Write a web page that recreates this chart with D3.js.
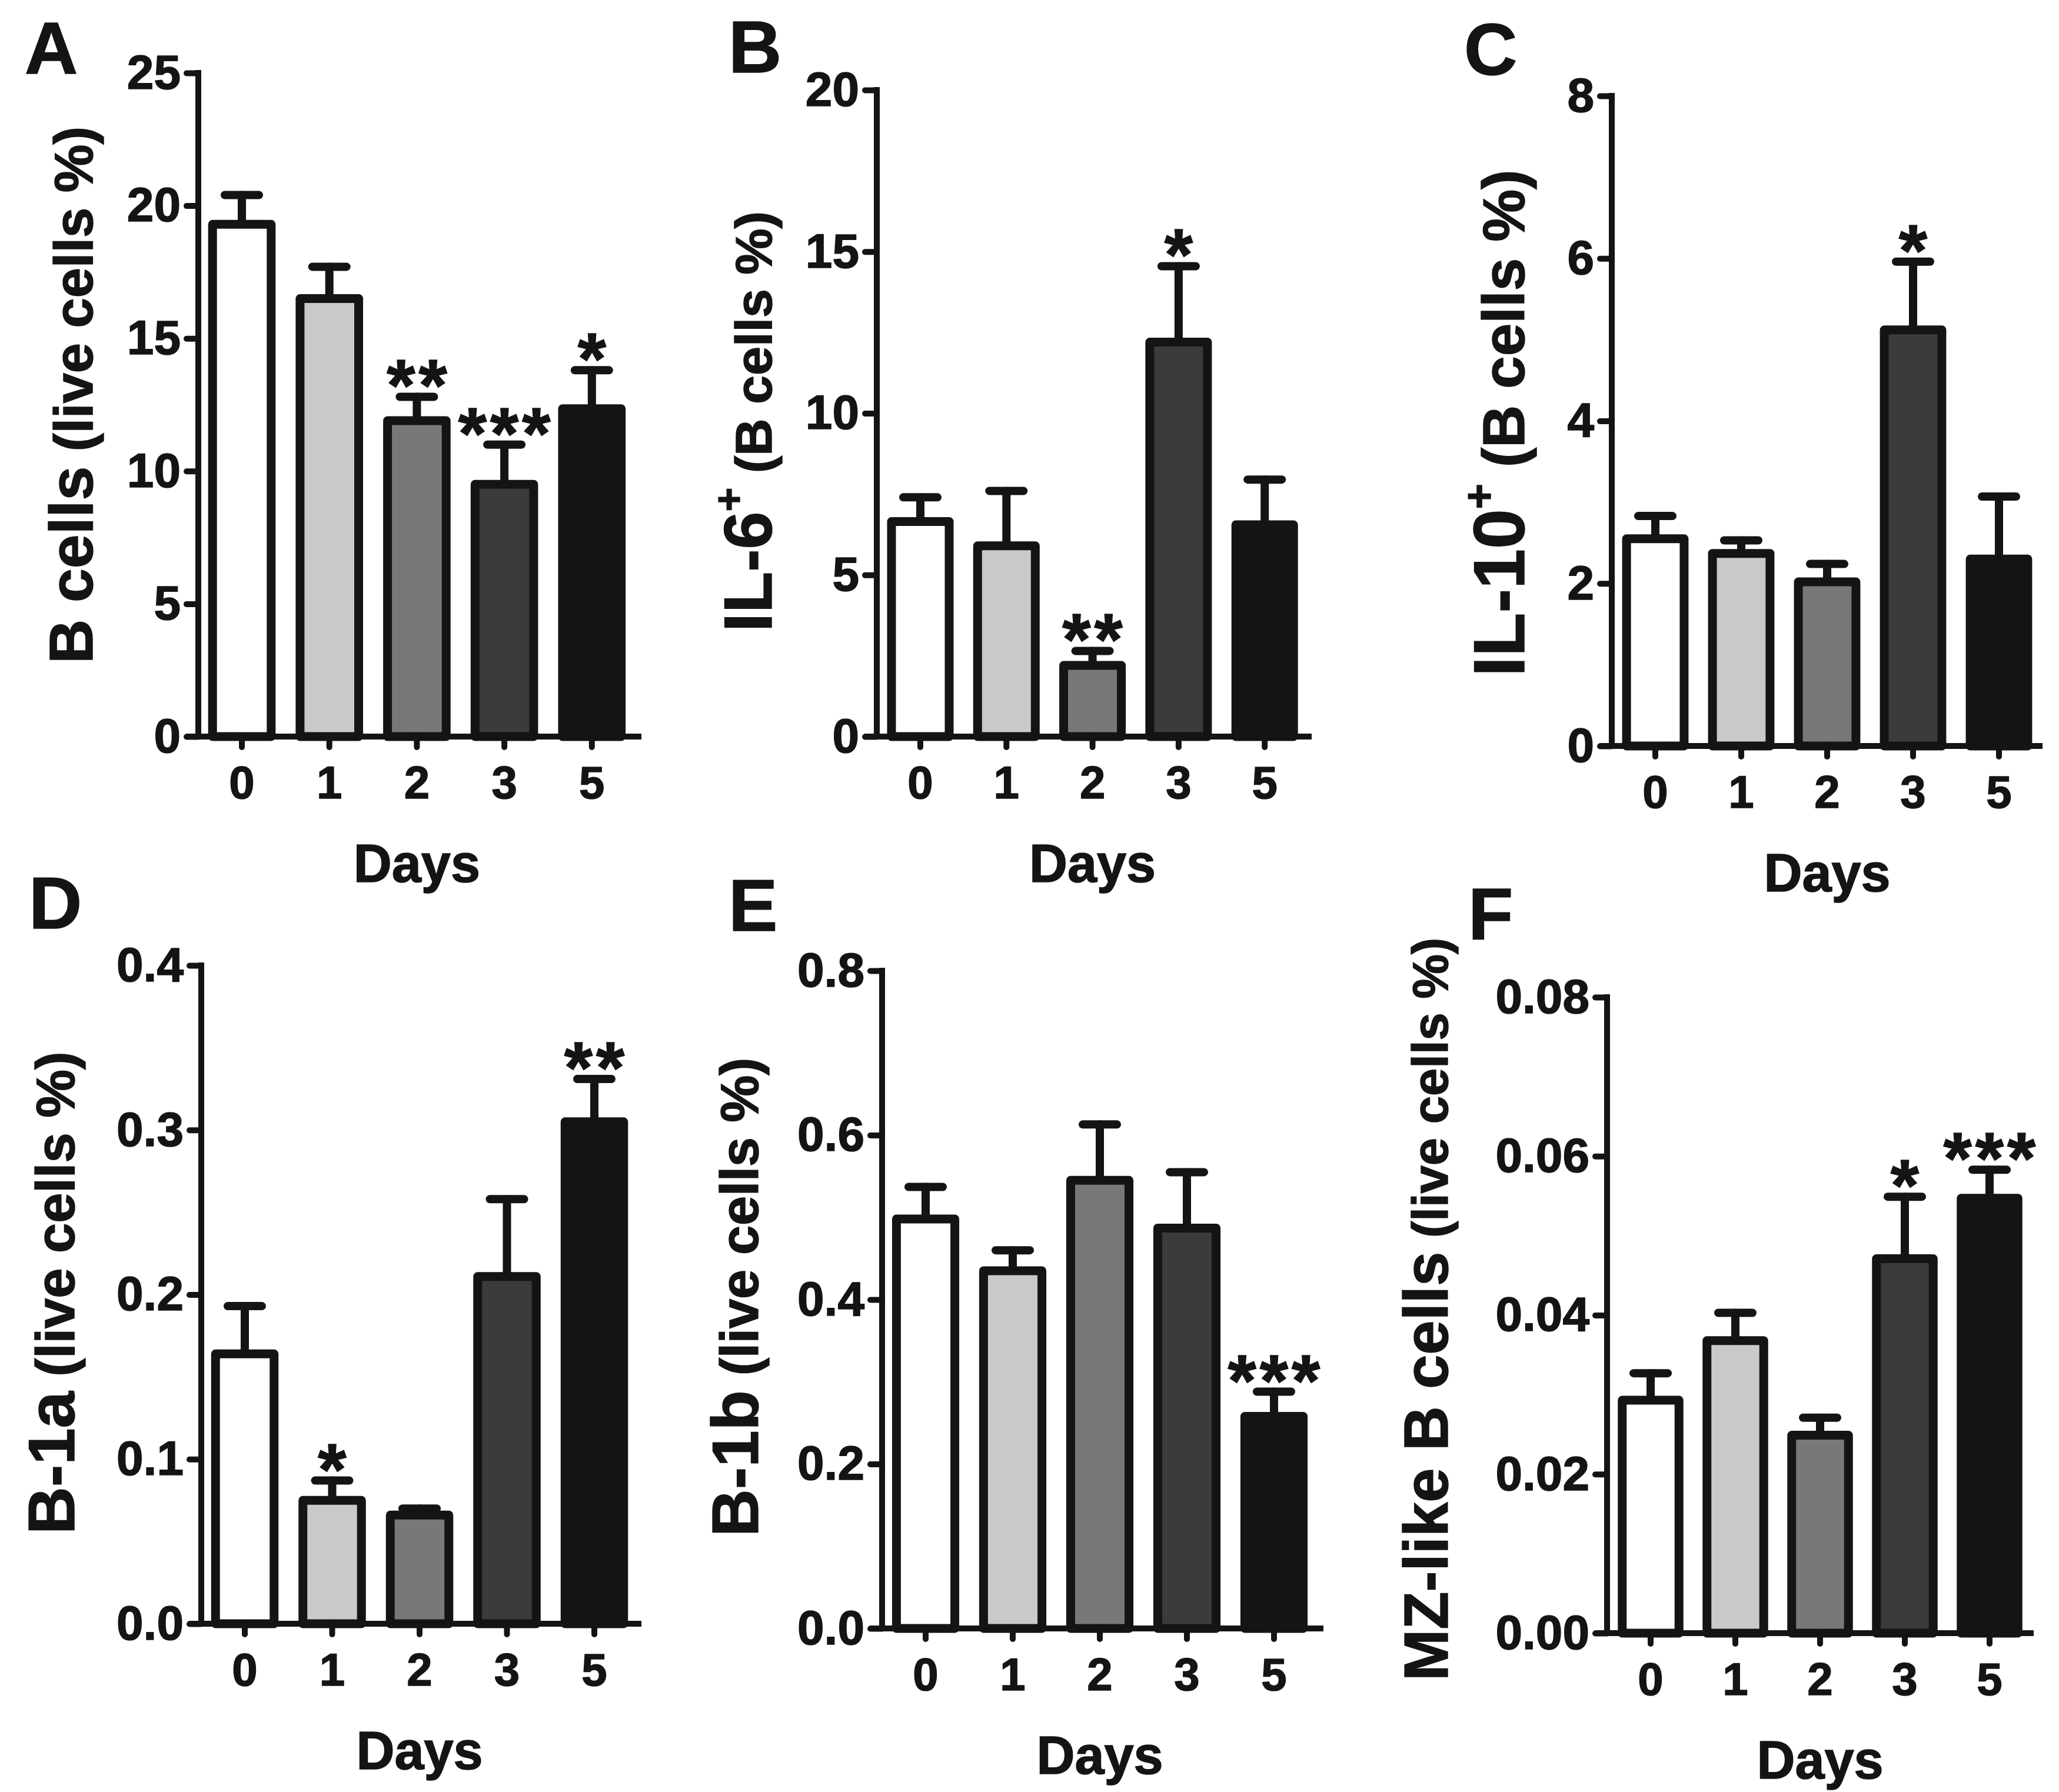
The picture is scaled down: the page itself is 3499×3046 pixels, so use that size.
<!doctype html>
<html>
<head>
  <meta charset="utf-8">
  <style>
    body { margin: 0; background: #fff; }
    svg { display: block; }
    text { font-family: "Liberation Sans", Arial, sans-serif; font-weight: bold; fill: #141414;
           stroke: #141414; stroke-width: 1.5px; paint-order: stroke; }
  </style>
  <script src="https://cdn.jsdelivr.net/npm/d3@7/dist/d3.min.js"></script>
</head>
<body>
  <script>
  // categories shared by all panels
  var days = ["0", "1", "2", "3", "5"];

  // A: B cells (live cells %)
  var bCells = [19.3, 16.5, 11.9, 9.5, 12.35];
  var bCellsSem = [1.1, 1.2, 0.9, 1.5, 1.45];
  var bCellsStars = ["", "", "**", "***", "*"];
  var bCellsTicks = [0, 5, 10, 15, 20, 25];

  // B: IL-6+ (B cells %)
  var il6 = [6.65, 5.9, 2.2, 12.2, 6.55];
  var il6Sem = [0.75, 1.7, 0.45, 2.35, 1.4];
  var il6Stars = ["", "", "**", "*", ""];
  var il6Ticks = [0, 5, 10, 15, 20];

  // C: IL-10+ (B cells %)
  var il10 = [2.55, 2.37, 2.02, 5.12, 2.3];
  var il10Sem = [0.28, 0.16, 0.22, 0.84, 0.77];
  var il10Stars = ["", "", "", "*", ""];
  var il10Ticks = [0, 2, 4, 6, 8];

  // D: B-1a (live cells %)
  var b1a = [0.164, 0.075, 0.066, 0.211, 0.305];
  var b1aSem = [0.029, 0.012, 0.004, 0.047, 0.026];
  var b1aStars = ["", "*", "", "", "**"];
  var b1aTicks = [0, 0.1, 0.2, 0.3, 0.4];

  // E: B-1b (live cells %)
  var b1b = [0.498, 0.435, 0.545, 0.487, 0.258];
  var b1bSem = [0.039, 0.025, 0.068, 0.068, 0.030];
  var b1bStars = ["", "", "", "", "***"];
  var b1bTicks = [0, 0.2, 0.4, 0.6, 0.8];

  // F: MZ-like B cells (live cells %)
  var mz = [0.0293, 0.0368, 0.0249, 0.0471, 0.0547];
  var mzSem = [0.0034, 0.0035, 0.0022, 0.0078, 0.0036];
  var mzStars = ["", "", "", "*", "***"];
  var mzTicks = [0, 0.02, 0.04, 0.06, 0.08];

  var fills = ["#ffffff", "#c9c9c9", "#787878", "#3b3b3b", "#151515"];
  var ink = "#141414";

  var svgW = 3499, svgH = 3046;
  var svg = d3.select("body").append("svg")
    .attr("width", svgW)
    .attr("height", svgH);

  // panels: data + where each one sits on the page
  // title: [main, superscript, rest], f: [main size, sup size, rest size], titleY = bottom end of the rotated title
  var panels = [
    { letter: "A", vals: bCells, sem: bCellsSem, stars: bCellsStars, ticks: bCellsTicks, fmt: "d",
      title: ["B cells", "", " (live cells %)"], f: [104, 0, 92],
      axisX: 337, top: 124, zero: 1252, step: 148.7, xEnd: 1090, titleX: 157, titleY: 1128, lx: 42, ly: 125 },
    { letter: "B", vals: il6, sem: il6Sem, stars: il6Stars, ticks: il6Ticks, fmt: "d",
      title: ["IL-6", "+", " (B cells %)"], f: [115, 70, 88],
      axisX: 1490, top: 153, zero: 1252, step: 146.3, xEnd: 2229, titleX: 1311, titleY: 1074, lx: 1238, ly: 123 },
    { letter: "C", vals: il10, sem: il10Sem, stars: il10Stars, ticks: il10Ticks, fmt: "d",
      title: ["IL-10", "+", " (B cells %)"], f: [122, 74, 100],
      axisX: 2739, top: 163, zero: 1268, step: 146, xEnd: 3471, titleX: 2590, titleY: 1150, lx: 2488, ly: 127 },
    { letter: "D", vals: b1a, sem: b1aSem, stars: b1aStars, ticks: b1aTicks, fmt: ".1f",
      title: ["B-1a", "", " (live cells %)"], f: [112, 0, 92],
      axisX: 342, top: 1641, zero: 2760, step: 148.5, xEnd: 1090, titleX: 126, titleY: 2608, lx: 49, ly: 1578 },
    { letter: "E", vals: b1b, sem: b1bSem, stars: b1bStars, ticks: b1bTicks, fmt: ".1f",
      title: ["B-1b", "", " (live cells %)"], f: [112, 0, 90],
      axisX: 1499, top: 1650, zero: 2768, step: 148, xEnd: 2249, titleX: 1288, titleY: 2612, lx: 1238, ly: 1582 },
    { letter: "F", vals: mz, sem: mzSem, stars: mzStars, ticks: mzTicks, fmt: ".2f",
      title: ["MZ-like B cells", "", " (live cells %)"], f: [105, 0, 85],
      axisX: 2731, top: 1695, zero: 2776, step: 144, xEnd: 3456, titleX: 2460, titleY: 2857, lx: 2495, ly: 1596 }
  ];

  panels.forEach(function(p) {
    var g = svg.append("g");
    var rows = days.map(function(d, i) {
      return { day: d, v: p.vals[i], e: p.vals[i] + p.sem[i], star: p.stars[i], i: i };
    });

    var x0 = p.axisX + 74 - p.step / 2;
    var x = d3.scaleBand()
      .domain(days)
      .range([x0, x0 + 5 * p.step])
      .paddingInner(0.33)
      .paddingOuter(0.165);

    var y = d3.scaleLinear()
      .domain([0, p.ticks[p.ticks.length - 1]])
      .range([p.zero, p.top]);

    // error bars (upper only), behind the bars
    var eb = g.selectAll(".err").data(rows).enter().append("g")
      .attr("stroke", ink)
      .attr("stroke-width", 14)
      .attr("stroke-linecap", "round");
    eb.append("line")
      .attr("x1", function(d) { return x(d.day) + x.bandwidth() / 2; })
      .attr("x2", function(d) { return x(d.day) + x.bandwidth() / 2; })
      .attr("y1", function(d) { return y(d.v); })
      .attr("y2", function(d) { return y(d.e); });
    eb.append("line")
      .attr("x1", function(d) { return x(d.day) + x.bandwidth() / 2 - 29; })
      .attr("x2", function(d) { return x(d.day) + x.bandwidth() / 2 + 29; })
      .attr("y1", function(d) { return y(d.e); })
      .attr("y2", function(d) { return y(d.e); });

    g.selectAll("rect").data(rows).enter().append("rect")
      .attr("x", function(d) { return x(d.day); })
      .attr("y", function(d) { return y(d.v); })
      .attr("width", x.bandwidth())
      .attr("height", function(d) { return y(0) - y(d.v); })
      .attr("fill", function(d) { return fills[d.i]; })
      .attr("stroke", ink)
      .attr("stroke-width", 15)
      .attr("stroke-linejoin", "round");

    // significance stars
    g.selectAll(".star").data(rows).enter().append("text")
      .attr("x", function(d) { return x(d.day) + x.bandwidth() / 2 + 3; })
      .attr("y", function(d) { return y(d.e) + 24; })
      .attr("text-anchor", "middle")
      .style("font-size", "124px")
      .style("letter-spacing", "6px")
      .text(function(d) { return d.star; });

    // y axis
    var yAxis = d3.axisLeft(y)
      .tickValues(p.ticks)
      .tickFormat(d3.format(p.fmt))
      .tickSize(20)
      .tickSizeOuter(0)
      .tickPadding(10);
    var ya = g.append("g").attr("transform", "translate(" + p.axisX + ",0)").call(yAxis);
    ya.select(".domain").attr("stroke", ink).attr("stroke-width", 10)
      .attr("d", "M0," + (p.top - 5) + "V" + p.zero);
    ya.selectAll(".tick line").attr("stroke", ink).attr("stroke-width", 10).attr("stroke-linecap", "round");
    ya.selectAll(".tick text")
      .attr("fill", ink)
      .style("font-family", "'Liberation Sans', Arial, sans-serif")
      .style("font-weight", "bold")
      .style("font-size", "82px");

    // x axis
    var xAxis = d3.axisBottom(x)
      .tickSize(18)
      .tickSizeOuter(0)
      .tickPadding(32);
    var xa = g.append("g").attr("transform", "translate(0," + p.zero + ")").call(xAxis);
    xa.select(".domain").attr("stroke", ink).attr("stroke-width", 10)
      .attr("d", "M" + (p.axisX - 21) + ",0H" + p.xEnd);
    xa.selectAll(".tick line").attr("stroke", ink).attr("stroke-width", 10).attr("stroke-linecap", "round");
    xa.selectAll(".tick text")
      .attr("fill", ink)
      .style("font-family", "'Liberation Sans', Arial, sans-serif")
      .style("font-weight", "bold")
      .style("font-size", "78px");

    // x title
    g.append("text")
      .attr("x", x(days[2]) + x.bandwidth() / 2)
      .attr("y", p.zero + 247)
      .attr("text-anchor", "middle")
      .style("font-size", "90px")
      .text("Days");

    // y title, reading bottom to top from titleY
    var t = g.append("text")
      .attr("transform", "translate(" + p.titleX + "," + p.titleY + ") rotate(-90)")
      .attr("text-anchor", "start");
    t.append("tspan").style("font-size", p.f[0] + "px").text(p.title[0]);
    if (p.title[1]) {
      t.append("tspan").style("font-size", p.f[1] + "px").attr("dy", -p.f[0] * 0.42).text(p.title[1]);
      t.append("tspan").style("font-size", p.f[2] + "px").attr("dy", p.f[0] * 0.42).text(p.title[2]);
    } else {
      t.append("tspan").style("font-size", p.f[2] + "px").text(p.title[2]);
    }

    // panel letter
    g.append("text")
      .attr("x", p.lx)
      .attr("y", p.ly)
      .style("font-size", "125px")
      .text(p.letter);
  });
  </script>
</body>
</html>
